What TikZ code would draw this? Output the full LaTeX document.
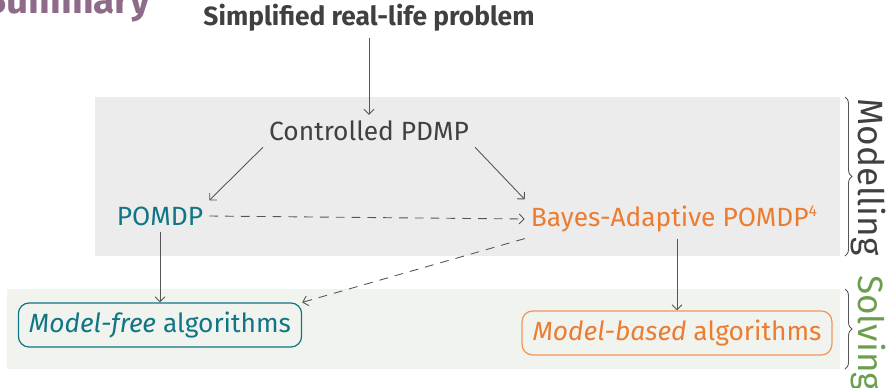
\documentclass[tikz,border=0pt]{standalone}
\usepackage{fontspec}
\setmainfont{Fira Sans}
\usetikzlibrary{arrows.meta,decorations.pathreplacing}

\definecolor{tealblue}{RGB}{16,118,133}
\definecolor{bapoorange}{RGB}{236,124,48}
\definecolor{textgray}{RGB}{64,64,64}
\definecolor{linegray}{RGB}{85,85,85}
\definecolor{modelbg}{RGB}{236,236,236}
\definecolor{solvebg}{RGB}{241,243,238}
\definecolor{solvegreen}{RGB}{107,158,78}
\definecolor{titlepurple}{RGB}{142,107,136}

\tikzset{
    conn/.style={draw=linegray, line width=0.5pt, -{Straight Barb[length=1mm,width=2mm]}},
    dashconn/.style={conn, dashed, dash pattern=on 5pt off 4pt},
    algbox/.style={draw, rounded corners=6pt, line width=0.7pt, fill=solvebg,
        minimum height=0.88cm, inner xsep=6pt},
    partbrace/.style={draw=linegray, line width=0.5pt, decorate, decoration={brace, amplitude=4pt}},
    partlabel/.style={rotate=-90, font=\fontsize{20}{24}\selectfont}
}

\begin{document}
\begin{tikzpicture}[x=0.02cm, y=-0.02cm, every node/.append style={font=\fontsize{15}{18}\selectfont}]
    \useasboundingbox (0,0) rectangle (890,387);
    % background bands
    \fill[modelbg] (95,97) rectangle (840,256);
    \fill[solvebg] (7,289) rectangle (840,369);

    \node[text=titlepurple, anchor=base west, font=\bfseries\fontsize{22}{26}\selectfont] (title) at (-22,13) {Summary};
    \node[text=textgray, font=\bfseries\fontsize{15}{18}\selectfont] (problem) at (369,18) {Simplified real-life problem};
    \node[text=textgray] (pdmp) at (369,131) {Controlled PDMP};
    \node[text=tealblue] (pomdp) at (160,216) {POMDP};
    \node[text=bapoorange] (bapomdp) at (674,219) {Bayes-Adaptive POMDP\raisebox{0.75ex}{\fontsize{9}{9}\selectfont 4}};
    \node[algbox, draw=tealblue, text=tealblue] (free) at (160,325) {\textit{Model-free} algorithms};
    \node[algbox, draw=bapoorange!80, text=bapoorange] (based) at (677,333) {\textit{Model-based} algorithms};

    % connectors
    \draw[conn] (problem) -- (pdmp);
    \draw[conn] (pdmp.south west) -- (pomdp.north east);
    \draw[conn] (pdmp.south east) -- (bapomdp.north west);
    \draw[dashconn] (pomdp.east) -- (bapomdp.west);
    \draw[conn] (pomdp.south) -- (free.north);
    \draw[dashconn] (bapomdp.south west) -- (free.north east);
    \draw[conn] (bapomdp.south -| based.north) -- (based.north);

    % braces
    \draw[partbrace] (845,97) -- (845,256);
    \draw[partbrace] (845,289) -- (845,369);
    \node[partlabel, text=textgray] (modelling) at (868,177) {Modelling};
    \node[partlabel, text=solvegreen] (solving) at (868,333) {Solving};
\end{tikzpicture}
\end{document}
